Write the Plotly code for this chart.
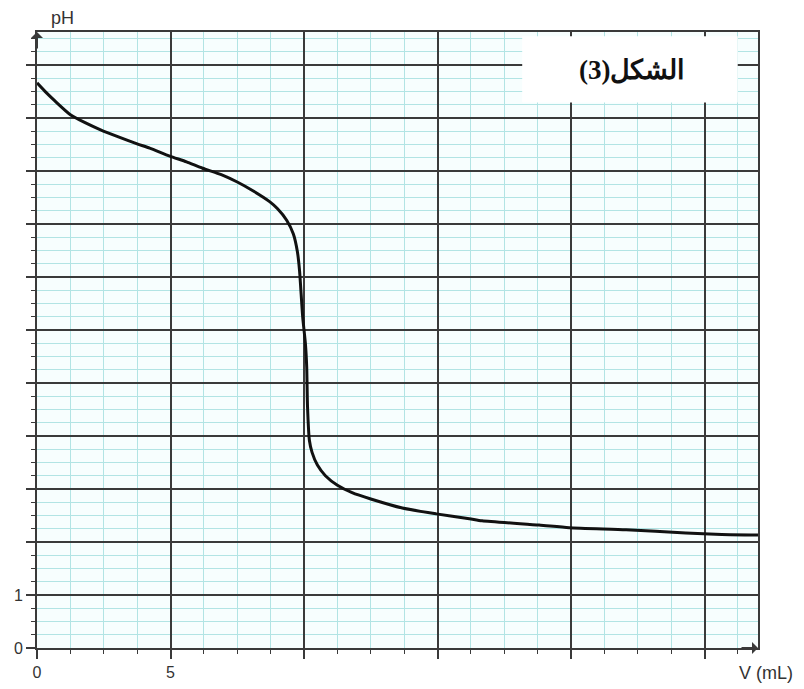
import plotly.graph_objects as go

# Titration curve data
V_mL = [0, 0.3, 0.67, 1.25, 1.8, 2.36, 3.0, 3.75, 4.22, 4.97, 5.6, 6.2, 6.9, 7.5, 8.1, 8.71, 9.0,
        9.35, 9.6, 9.75, 9.83, 9.95, 10.05, 10.1, 10.13, 10.2, 10.3, 10.5, 10.8, 11.25, 11.8,
        12.5, 13.68, 14.95, 16.19, 16.67, 18.8, 19.93, 22.06, 24.3, 25.64, 27.0]
pH = [10.66, 10.50, 10.32, 10.06, 9.91, 9.78, 9.65, 9.51, 9.43, 9.28, 9.17, 9.05, 8.93, 8.79,
      8.62, 8.42, 8.29, 8.07, 7.81, 7.48, 7.13, 6.24, 5.75, 5.30, 4.56, 3.92, 3.69, 3.45, 3.25,
      3.07, 2.93, 2.81, 2.64, 2.53, 2.44, 2.40, 2.32, 2.27, 2.23, 2.17, 2.14, 2.13]

x_major = [0, 5, 10, 15, 20, 25]
x_labels = ["0", "5", "", "", "", ""]
y_major = list(range(0, 12))
y_labels = ["0", "1"] + [""] * 10

title_text = "\u202bالشكل(3)\u202c"

MAJOR = "#3a3a3a"
MINOR = "#b2e4e4"
FONT = "Liberation Sans, Arial, sans-serif"

fig = go.Figure()
fig.add_trace(go.Scatter(x=V_mL, y=pH, mode="lines",
                         line=dict(color="#111111", width=3, shape="spline", smoothing=0.6),
                         showlegend=False, hoverinfo="skip"))

fig.update_layout(
    width=804, height=689,
    margin=dict(l=29, r=54, t=24, b=49),
    paper_bgcolor="white",
    plot_bgcolor="#f7fefe",
    font=dict(family=FONT, size=16, color="#333333"),
    xaxis=dict(range=[0, 27], tickmode="array", tickvals=x_major, ticktext=x_labels,
               automargin=False,
               showgrid=True, gridcolor=MAJOR, gridwidth=2,
               ticks="outside", ticklen=9, tickwidth=2, tickcolor=MAJOR,
               showline=True, linecolor=MAJOR, linewidth=2, mirror=True,
               zeroline=False,
               minor=dict(dtick=1.25, showgrid=True, gridcolor=MINOR, gridwidth=1.2,
                          ticks="outside", ticklen=4, tickcolor=MAJOR, tickwidth=1)),
    yaxis=dict(range=[0, 11.62], tickmode="array", tickvals=y_major, ticktext=y_labels,
               automargin=False,
               showgrid=True, gridcolor=MAJOR, gridwidth=2,
               ticks="outside", ticklen=9, tickwidth=2, tickcolor=MAJOR,
               showline=True, linecolor=MAJOR, linewidth=2, mirror=True,
               zeroline=False,
               minor=dict(dtick=0.25, showgrid=True, gridcolor=MINOR, gridwidth=1.2,
                          ticks="outside", ticklen=4, tickcolor=MAJOR, tickwidth=1)),
)

# white label box
fig.add_shape(type="rect", xref="x", yref="y", x0=18.17, x1=26.24, y0=10.29, y1=11.54,
              fillcolor="white", line=dict(width=0), layer="above")
fig.add_annotation(x=22.3, y=10.9, xref="x", yref="y", text=f"<b>{title_text}</b>",
                   showarrow=False, xanchor="center", yanchor="middle",
                   font=dict(family="Liberation Serif, Times New Roman, serif", size=27,
                             color="#111111"))

# axis arrows
fig.add_annotation(x=0, y=11.62, xref="x", yref="y", ax=0, ay=18, text="", showarrow=True,
                   arrowhead=1, arrowsize=1, arrowwidth=2, arrowcolor=MAJOR)
fig.add_annotation(x=27, y=0, xref="x", yref="y", ax=-18, ay=0, text="", showarrow=True,
                   arrowhead=1, arrowsize=1, arrowwidth=2, arrowcolor=MAJOR)

# axis titles
fig.add_annotation(x=0.035, y=1.023, xref="paper", yref="paper", text="pH", showarrow=False,
                   xanchor="center", yanchor="middle",
                   font=dict(family=FONT, size=18, color="#333333"))
fig.add_annotation(x=1.011, y=-0.041, xref="paper", yref="paper", text="V (mL)",
                   showarrow=False, xanchor="center", yanchor="middle",
                   font=dict(family=FONT, size=18, color="#333333"))

fig.write_html("out.html")
